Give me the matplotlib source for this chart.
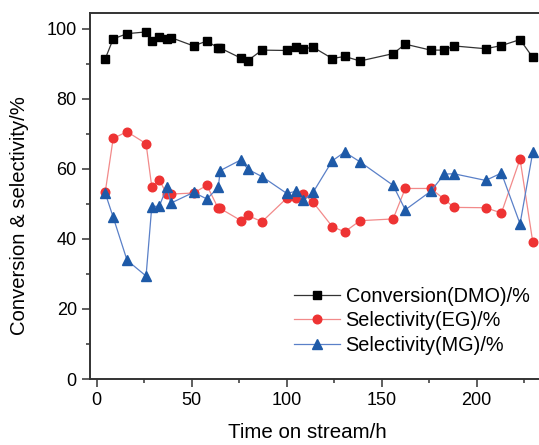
import matplotlib
matplotlib.use("Agg")
import matplotlib.pyplot as plt
from matplotlib.ticker import MultipleLocator

plt.rcParams['font.family'] = ['Liberation Sans', 'DejaVu Sans']

time_h = [4.5, 8.7, 16, 26, 29, 33, 37, 39, 51, 58, 64, 65, 76, 79.5, 87,
          100, 105, 108.7, 114, 124, 130.5, 138.6, 156, 162.4, 175.8, 183,
          188, 204.7, 213, 222.8, 229.5]
conv_dmo = [91.4, 97.1, 98.6, 99.1, 96.4, 97.6, 97.1, 97.5, 95.1, 96.5, 94.5, 94.5,
            91.6, 90.9, 93.9, 93.8, 94.7, 94.3, 94.7, 91.5, 92.1, 90.8, 92.9,
            95.6, 93.9, 93.9, 95.1, 94.3, 95.2, 96.9, 91.8]
sel_eg = [53.3, 68.7, 70.6, 67.2, 54.9, 56.7, 52.8, 52.8, 53.1, 55.3, 48.7, 48.7,
          45.2, 46.7, 44.9, 51.6, 51.6, 52.9, 50.4, 43.5, 42.0, 45.2, 45.7,
          54.4, 54.4, 51.3, 49.0, 48.9, 47.4, 62.8, 39.1]
sel_mg = [53.1, 46.2, 33.9, 29.4, 49.2, 49.4, 54.8, 50.2, 53.3, 51.4, 54.7, 59.5,
          62.6, 59.9, 57.8, 53.0, 53.6, 51.0, 53.4, 62.3, 64.8, 62.0, 55.3,
          48.3, 53.6, 58.5, 58.6, 56.7, 58.8, 44.3, 64.8]

labels = ["Conversion(DMO)/%", "Selectivity(EG)/%", "Selectivity(MG)/%"]

fig = plt.figure(figsize=(5.39, 4.45), dpi=100)
ax = fig.add_axes([90/539, 66/445, (540-90)/539, (379-13)/445])

ax.plot(time_h, conv_dmo, color='#333333', lw=0.9, marker='s', ms=5.5,
        mfc='black', mec='black', label=labels[0])
ax.plot(time_h, sel_eg, color='#f28a8a', lw=0.9, marker='o', ms=6.2,
        mfc='#ee3333', mec='#ee3333', label=labels[1])
ax.plot(time_h, sel_mg, color='#5a80c8', lw=0.9, marker='^', ms=7,
        mfc='#1e5aa8', mec='#1e5aa8', label=labels[2])

ax.set_xlim(-3.5, 233.3)
ax.set_ylim(0, 104.5)
ax.xaxis.set_major_locator(MultipleLocator(50))
ax.xaxis.set_minor_locator(MultipleLocator(25))
ax.yaxis.set_major_locator(MultipleLocator(20))
ax.yaxis.set_minor_locator(MultipleLocator(10))
ax.tick_params(which='major', direction='out', length=6, width=1.1,
               labelsize=13, pad=3.5, color='#333333')
ax.tick_params(which='minor', direction='out', length=3, width=1.1, color='#333333')
for s in ['left', 'bottom', 'top']:
    ax.spines[s].set_linewidth(1.4)
    ax.spines[s].set_color('#333333')
ax.spines['right'].set_visible(False)

xl = ax.set_xlabel("Time on stream/h", fontsize=14.8)
yl = ax.set_ylabel("Conversion & selectivity/%", fontsize=14.6)
xl.set_verticalalignment('center')
yl.set_verticalalignment('center')
ax.xaxis.set_label_coords((307-90)/450, -(433-379)/366)
ax.yaxis.set_label_coords(-(90-20)/450, (379-216)/366)

leg = fig.legend(loc='upper left', bbox_to_anchor=(294/539, (445-287)/445),
                 frameon=False, fontsize=14.3, handlelength=2.3,
                 handletextpad=0.3, labelspacing=0.27, borderpad=0,
                 borderaxespad=0)

fig.savefig("out.png", dpi=100)
